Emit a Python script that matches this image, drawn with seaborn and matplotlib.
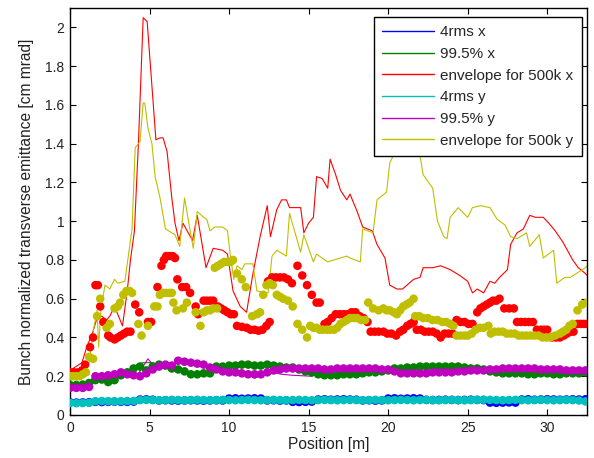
import numpy as np
import pandas as pd
import matplotlib
matplotlib.use("Agg")
import matplotlib.pyplot as plt
from matplotlib.ticker import FuncFormatter
import seaborn as sns

# ---------------- data ----------------
# common sampling positions for the low (4rms / 99.5%) series [m]
pos_low = [0.0, 0.4, 0.8, 1.2, 1.6, 2.0, 2.4, 2.8, 3.2, 3.6,
           4.0, 4.4, 4.8, 5.2, 5.6, 6.0, 6.4, 6.8, 7.2, 7.6,
           8.0, 8.4, 8.8, 9.2, 9.6, 10.0, 10.4, 10.8, 11.2, 11.6,
           12.0, 12.4, 12.8, 13.2, 13.6, 14.0, 14.4, 14.8, 15.2, 15.6,
           16.0, 16.4, 16.8, 17.2, 17.6, 18.0, 18.4, 18.8, 19.2, 19.6,
           20.0, 20.4, 20.8, 21.2, 21.6, 22.0, 22.4, 22.8, 23.2, 23.6,
           24.0, 24.4, 24.8, 25.2, 25.6, 26.0, 26.4, 26.8, 27.2, 27.6,
           28.0, 28.4, 28.8, 29.2, 29.6, 30.0, 30.4, 30.8, 31.2, 31.6,
           32.0, 32.4]

rms_x = [0.065, 0.064, 0.065, 0.066, 0.068, 0.067, 0.068, 0.069, 0.068, 0.068,
         0.069, 0.080, 0.081, 0.079, 0.075, 0.076, 0.075, 0.074, 0.075, 0.076,
         0.075, 0.074, 0.075, 0.076, 0.075, 0.085, 0.086, 0.084, 0.085, 0.086,
         0.085, 0.075, 0.076, 0.074, 0.075, 0.068, 0.067, 0.068, 0.069, 0.080,
         0.081, 0.079, 0.080, 0.081, 0.080, 0.079, 0.075, 0.076, 0.074, 0.075,
         0.085, 0.086, 0.084, 0.085, 0.086, 0.085, 0.078, 0.077, 0.078, 0.079,
         0.078, 0.077, 0.078, 0.079, 0.078, 0.077, 0.064, 0.063, 0.064, 0.065,
         0.064, 0.080, 0.081, 0.079, 0.080, 0.081, 0.080, 0.079, 0.080, 0.081,
         0.080, 0.081]

rms_y = [0.062, 0.061, 0.062, 0.063, 0.071, 0.072, 0.071, 0.070, 0.071, 0.072,
         0.072, 0.077, 0.078, 0.077, 0.076, 0.077, 0.078, 0.077, 0.076, 0.077,
         0.078, 0.077, 0.076, 0.077, 0.078, 0.077, 0.076, 0.077, 0.078, 0.077,
         0.076, 0.077, 0.078, 0.077, 0.076, 0.077, 0.078, 0.077, 0.076, 0.077,
         0.078, 0.077, 0.076, 0.077, 0.078, 0.077, 0.076, 0.077, 0.078, 0.077,
         0.076, 0.077, 0.078, 0.077, 0.076, 0.077, 0.078, 0.077, 0.076, 0.077,
         0.078, 0.077, 0.076, 0.077, 0.078, 0.079, 0.078, 0.077, 0.076, 0.077,
         0.078, 0.077, 0.076, 0.077, 0.078, 0.077, 0.076, 0.077, 0.078, 0.077,
         0.075, 0.070]

p995_x_dots = [0.155, 0.155, 0.157, 0.165, 0.180, 0.183, 0.170, 0.180, 0.205, 0.220,
               0.240, 0.250, 0.230, 0.250, 0.260, 0.255, 0.240, 0.235, 0.225, 0.210,
               0.210, 0.215, 0.215, 0.250, 0.250, 0.255, 0.255, 0.260, 0.260, 0.255,
               0.255, 0.260, 0.255, 0.250, 0.245, 0.245, 0.235, 0.225, 0.220, 0.210,
               0.205, 0.205, 0.205, 0.210, 0.210, 0.210, 0.215, 0.220, 0.220, 0.225,
               0.230, 0.240, 0.240, 0.245, 0.245, 0.250, 0.250, 0.250, 0.250, 0.250,
               0.250, 0.250, 0.245, 0.240, 0.240, 0.235, 0.225, 0.220, 0.215, 0.215,
               0.215, 0.215, 0.210, 0.210, 0.215, 0.215, 0.210, 0.210, 0.215, 0.215,
               0.215, 0.220]

p995_y_dots = [0.140, 0.140, 0.140, 0.145, 0.200, 0.200, 0.205, 0.210, 0.220, 0.210,
               0.205, 0.200, 0.215, 0.235, 0.250, 0.260, 0.255, 0.280, 0.275, 0.270,
               0.265, 0.260, 0.245, 0.235, 0.225, 0.220, 0.220, 0.215, 0.210, 0.210,
               0.210, 0.220, 0.230, 0.235, 0.240, 0.240, 0.240, 0.240, 0.240, 0.240,
               0.235, 0.235, 0.240, 0.240, 0.240, 0.240, 0.240, 0.240, 0.240, 0.235,
               0.235, 0.225, 0.215, 0.215, 0.215, 0.215, 0.215, 0.220, 0.220, 0.220,
               0.220, 0.225, 0.225, 0.230, 0.230, 0.230, 0.235, 0.235, 0.240, 0.240,
               0.240, 0.240, 0.240, 0.240, 0.235, 0.235, 0.235, 0.235, 0.230, 0.230,
               0.230, 0.230]

# 99.5% lines
p995_x_pos = [0, 1.2, 1.5, 2.5, 3.0, 3.9, 4.2, 4.6, 5.0, 5.5,
              6.0, 6.6, 7.0, 7.6, 8.2, 8.8, 9.2, 10.0, 10.6, 11.0,
              11.6, 12.2, 13.0, 14.0, 15.0, 15.8, 16.6, 17.4, 18.6, 19.8,
              20.6, 21.8, 23.0, 24.6, 25.4, 26.2, 27.0, 28.2, 29.4, 30.6,
              31.8, 32.5]
p995_x_line = [0.155, 0.165, 0.18, 0.17, 0.20, 0.23, 0.26, 0.27, 0.27, 0.265,
               0.26, 0.24, 0.23, 0.215, 0.21, 0.22, 0.245, 0.25, 0.23, 0.22,
               0.19, 0.21, 0.24, 0.235, 0.22, 0.21, 0.205, 0.21, 0.22, 0.225,
               0.24, 0.25, 0.25, 0.25, 0.24, 0.225, 0.21, 0.215, 0.21, 0.21,
               0.215, 0.22]

p995_y_pos = [0, 1.2, 1.45, 3.0, 4.2, 4.9, 5.3, 6.0, 6.8, 8.0,
              9.2, 10.4, 11.5, 12.5, 13.3, 14.0, 15.2, 16.0, 17.0, 19.0,
              20.5, 22.0, 24.0, 26.0, 28.0, 30.0, 32.5]
p995_y_line = [0.14, 0.15, 0.20, 0.22, 0.20, 0.29, 0.25, 0.265, 0.27, 0.26,
               0.23, 0.22, 0.21, 0.225, 0.21, 0.205, 0.20, 0.235, 0.24, 0.24,
               0.215, 0.215, 0.22, 0.23, 0.24, 0.235, 0.23]

# envelope lines
env_x_pos = [0, 0.75, 1.05, 1.4, 1.7, 2.0, 2.3, 2.5, 2.8, 3.3,
             3.6, 3.8, 4.05, 4.3, 4.6, 4.85, 5.4, 5.66, 5.85, 6.1,
             6.4, 6.6, 6.85, 7.1, 7.7, 8.0, 8.55, 9.0, 9.6, 9.9,
             10.25, 10.7, 11.1, 11.3, 11.5, 11.95, 12.4, 12.6, 13.0, 13.3,
             13.6, 13.8, 14.5, 14.7, 15.0, 15.3, 15.5, 15.85, 16.2, 16.35,
             16.7, 17.0, 17.4, 17.6, 18.05, 18.4, 19.0, 19.3, 19.8, 20.1,
             20.55, 20.9, 21.6, 22.0, 22.2, 22.8, 23.3, 23.9, 24.5, 25.0,
             25.3, 25.6, 26.0, 26.4, 26.7, 27.0, 27.5, 27.7, 28.1, 28.5,
             28.9, 29.25, 29.75, 30.1, 30.5, 31.0, 31.6, 31.95, 32.4, 32.5]
env_x_val = [0.23, 0.27, 0.35, 0.42, 0.50, 0.51, 0.49, 0.51, 0.56, 0.46,
             0.64, 0.80, 0.95, 1.40, 2.05, 2.03, 1.42, 1.43, 1.43, 1.36,
             1.12, 0.99, 0.90, 0.99, 0.90, 1.03, 0.76, 0.86, 0.85, 0.83,
             0.64, 0.56, 0.53, 0.63, 0.73, 0.92, 1.08, 0.92, 1.06, 1.11,
             1.11, 1.07, 1.07, 0.94, 0.99, 1.02, 1.23, 1.22, 1.17, 1.32,
             1.24, 1.16, 1.11, 1.14, 1.05, 0.97, 0.95, 0.88, 0.81, 0.67,
             0.65, 0.65, 0.70, 0.71, 0.76, 0.76, 0.77, 0.75, 0.72, 0.69,
             0.63, 0.65, 0.63, 0.69, 0.68, 0.71, 0.75, 0.88, 0.94, 0.96,
             1.03, 1.02, 1.02, 0.99, 0.95, 0.89, 0.80, 0.76, 0.73, 0.72]

env_y_pos = [0, 0.6, 1.2, 1.5, 1.7, 1.8, 1.95, 2.2, 2.5, 2.8,
             3.0, 3.45, 3.65, 3.9, 4.1, 4.4, 4.6, 4.7, 4.9, 5.15,
             5.35, 5.66, 6.0, 6.4, 6.6, 6.9, 7.2, 7.45, 7.75, 8.0,
             8.4, 8.6, 8.8, 9.1, 9.6, 9.9, 10.1, 10.3, 10.5, 10.8,
             11.0, 11.5, 11.75, 12.45, 12.7, 13.0, 13.6, 13.8, 14.15, 14.5,
             14.7, 15.3, 15.5, 16.2, 17.4, 17.6, 18.25, 18.4, 19.05, 19.3,
             19.9, 20.1, 20.45, 20.8, 21.5, 22.0, 22.2, 22.8, 23.1, 23.5,
             23.7, 23.9, 24.4, 25.0, 25.3, 25.8, 26.4, 26.85, 27.35, 27.7,
             28.1, 28.7, 28.9, 29.5, 29.75, 30.4, 30.6, 31.1, 31.45, 32.4,
             32.5]
env_y_val = [0.21, 0.21, 0.27, 0.45, 0.54, 0.35, 0.55, 0.67, 0.65, 0.70,
             0.68, 0.69, 0.81, 0.96, 1.38, 1.41, 1.61, 1.61, 1.48, 1.40,
             1.23, 1.12, 0.96, 0.94, 0.93, 0.87, 1.12, 1.00, 0.86, 1.05,
             1.02, 1.01, 0.95, 0.97, 0.97, 0.95, 0.81, 0.70, 0.77, 0.75,
             0.78, 0.78, 0.64, 0.63, 0.82, 0.85, 0.82, 1.04, 0.94, 0.84,
             0.93, 0.79, 0.83, 0.79, 0.82, 0.81, 0.79, 0.96, 0.94, 1.11,
             1.15, 1.30, 1.36, 1.38, 1.39, 1.34, 1.24, 1.17, 1.00, 0.92,
             0.91, 1.02, 1.07, 1.02, 1.07, 1.08, 1.07, 1.01, 0.98, 0.92,
             0.91, 0.94, 0.87, 0.93, 0.81, 0.85, 0.68, 0.71, 0.71, 0.76,
             0.77]

# envelope dots (separate sampled set)
env_x_dot_pos = [0, 0.25, 0.5, 0.75, 0.95, 1.26, 1.45, 1.6, 1.75, 1.9,
                 2.1, 2.4, 2.55, 2.8, 3.0, 3.2, 3.4, 3.6, 3.8, 4.1,
                 4.35, 4.9, 5.1, 5.5, 5.75, 5.9, 6.05, 6.25, 6.45, 6.6,
                 6.75, 7.05, 7.3, 7.55, 7.9, 8.05, 8.4, 8.6, 8.8, 9.0,
                 9.3, 9.5, 9.7, 9.9, 10.1, 10.3, 10.5, 10.8, 11.1, 11.35,
                 11.6, 11.85, 12.1, 12.35, 12.55, 12.45, 12.7, 12.95, 13.2, 13.45,
                 13.7, 13.95, 14.3, 14.6, 14.9, 15.2, 15.5, 15.7, 16.0, 16.2,
                 16.45, 16.7, 16.95, 17.2, 17.45, 17.7, 17.95, 18.2, 18.45, 18.7,
                 18.9, 19.15, 19.4, 19.7, 19.95, 20.2, 20.5, 20.75, 20.95, 21.2,
                 21.4, 21.6, 21.8, 22.05, 22.3, 22.55, 22.8, 23.05, 23.3, 23.55,
                 23.8, 24.05, 24.3, 24.55, 24.8, 25.05, 25.3, 25.6, 25.8, 26.0,
                 26.2, 26.4, 26.6, 26.8, 27.0, 27.3, 27.6, 27.9, 28.1, 28.35,
                 28.6, 28.85, 29.1, 29.35, 29.6, 29.8, 30.0, 30.3, 30.55, 30.8,
                 31.05, 31.25, 31.45, 31.65, 31.9, 32.1, 32.3, 32.5]
env_x_dot_val = [0.22, 0.22, 0.22, 0.23, 0.26, 0.35, 0.40, 0.67, 0.67, 0.56,
                 0.48, 0.41, 0.40, 0.39, 0.40, 0.41, 0.42, 0.43, 0.43, 0.57,
                 0.53, 0.48, 0.48, 0.66, 0.77, 0.80, 0.82, 0.82, 0.82, 0.81,
                 0.70, 0.66, 0.66, 0.63, 0.56, 0.52, 0.59, 0.59, 0.59, 0.59,
                 0.56, 0.55, 0.54, 0.53, 0.52, 0.52, 0.46, 0.455, 0.45, 0.44,
                 0.44, 0.435, 0.44, 0.46, 0.48, 0.69, 0.71, 0.71, 0.71, 0.71,
                 0.70, 0.68, 0.77, 0.72, 0.67, 0.62, 0.58, 0.58, 0.47, 0.48,
                 0.50, 0.52, 0.52, 0.52, 0.52, 0.53, 0.53, 0.51, 0.50, 0.48,
                 0.43, 0.43, 0.43, 0.43, 0.42, 0.42, 0.41, 0.43, 0.44, 0.46,
                 0.47, 0.48, 0.44, 0.44, 0.43, 0.43, 0.43, 0.42, 0.40, 0.42,
                 0.42, 0.42, 0.49, 0.48, 0.48, 0.47, 0.47, 0.53, 0.55, 0.56,
                 0.57, 0.58, 0.59, 0.59, 0.60, 0.55, 0.55, 0.55, 0.48, 0.48,
                 0.48, 0.48, 0.48, 0.44, 0.44, 0.44, 0.44, 0.40, 0.40, 0.40,
                 0.41, 0.42, 0.43, 0.43, 0.47, 0.47, 0.47, 0.47]

env_y_dot_pos = [0, 0.2, 0.4, 0.6, 0.8, 1.0, 1.2, 1.45, 1.7, 1.9,
                 2.3, 2.5, 2.8, 3.0, 3.15, 3.35, 3.55, 3.75, 3.9, 4.3,
                 4.5, 4.9, 5.3, 5.5, 5.65, 5.85, 6.05, 6.25, 6.4, 6.5,
                 6.7, 7.1, 7.35, 7.9, 8.2, 8.4, 8.6, 8.8, 9.0, 9.25,
                 9.1, 9.3, 9.5, 9.7, 9.9, 10.1, 10.25, 10.5, 10.8, 11.05,
                 11.45, 11.75, 11.95, 12.15, 12.35, 12.55, 12.75, 13.0, 13.2, 13.4,
                 13.7, 14.0, 14.3, 14.6, 14.9, 15.1, 15.3, 15.5, 15.7, 15.9,
                 16.15, 16.35, 16.6, 16.8, 17.0, 17.2, 17.4, 17.6, 17.85, 18.05,
                 18.3, 18.55, 18.75, 19.05, 19.4, 19.7, 19.9, 20.1, 20.35, 20.55,
                 20.75, 20.95, 21.15, 21.35, 21.6, 21.7, 21.95, 22.2, 22.5, 22.8,
                 23.1, 23.4, 23.65, 23.9, 24.1, 24.3, 24.55, 24.8, 25.0, 25.25,
                 25.5, 25.75, 26.0, 26.3, 26.45, 26.7, 26.95, 27.2, 27.45, 27.7,
                 27.95, 28.2, 28.45, 28.7, 28.95, 29.2, 29.45, 29.7, 29.95, 30.2,
                 30.5, 30.8, 31.0, 31.2, 31.4, 31.6, 31.9, 32.2, 32.5]
env_y_dot_val = [0.20, 0.20, 0.20, 0.20, 0.21, 0.22, 0.30, 0.29, 0.51, 0.60,
                 0.45, 0.47, 0.55, 0.56, 0.58, 0.62, 0.64, 0.64, 0.63, 0.47,
                 0.41, 0.46, 0.56, 0.56, 0.62, 0.63, 0.63, 0.63, 0.63, 0.58,
                 0.54, 0.55, 0.58, 0.53, 0.46, 0.53, 0.54, 0.54, 0.55, 0.55,
                 0.76, 0.77, 0.78, 0.79, 0.79, 0.79, 0.80, 0.73, 0.70, 0.66,
                 0.51, 0.52, 0.53, 0.62, 0.67, 0.68, 0.67, 0.62, 0.61, 0.60,
                 0.59, 0.56, 0.47, 0.44, 0.40, 0.46, 0.45, 0.45, 0.44, 0.44,
                 0.44, 0.44, 0.44, 0.45, 0.47, 0.48, 0.49, 0.50, 0.50, 0.50,
                 0.49, 0.49, 0.58, 0.55, 0.54, 0.55, 0.54, 0.54, 0.53, 0.52,
                 0.54, 0.56, 0.57, 0.58, 0.60, 0.51, 0.51, 0.50, 0.50, 0.49,
                 0.49, 0.48, 0.48, 0.47, 0.46, 0.41, 0.41, 0.41, 0.41, 0.42,
                 0.44, 0.45, 0.45, 0.46, 0.42, 0.43, 0.43, 0.43, 0.42, 0.42,
                 0.42, 0.41, 0.41, 0.41, 0.41, 0.41, 0.41, 0.40, 0.40, 0.40,
                 0.41, 0.42, 0.43, 0.44, 0.46, 0.47, 0.54, 0.57, 0.58]

labels = ["4rms x", "99.5% x", "envelope for 500k x",
          "4rms y", "99.5% y", "envelope for 500k y"]
colors = ["#0000FF", "#008000", "#FF0000", "#00BFBF", "#BF00BF", "#BFBF00"]

x_ticks = [0, 5, 10, 15, 20, 25, 30]
y_ticks = [0, 0.2, 0.4, 0.6, 0.8, 1.0, 1.2, 1.4, 1.6, 1.8, 2.0]

# ---------------- plot ----------------
sns.set_style("white")
plt.rcParams["font.family"] = ["Liberation Sans", "DejaVu Sans"]

fig = plt.figure(figsize=(5.94, 4.58), dpi=100)
ax = fig.add_axes([70 / 594, 43 / 458, 517 / 594, 407 / 458])

line_sets = [
    (pos_low, rms_x),
    (p995_x_pos, p995_x_line),
    (env_x_pos, env_x_val),
    (pos_low, rms_y),
    (p995_y_pos, p995_y_line),
    (env_y_pos, env_y_val),
]
for (xs, ys), lab, col in zip(line_sets, labels, colors):
    df = pd.DataFrame({"pos": xs, "val": ys})
    sns.lineplot(data=df, x="pos", y="val", color=col, linewidth=0.8,
                 label=lab, ax=ax, sort=False, estimator=None, zorder=2)

dot_sets = [
    (pos_low, rms_x),
    (pos_low, p995_x_dots),
    (env_x_dot_pos, env_x_dot_val),
    (pos_low, rms_y),
    (pos_low, p995_y_dots),
    (env_y_dot_pos, env_y_dot_val),
]
for (xs, ys), col in zip(dot_sets, colors):
    df = pd.DataFrame({"pos": xs, "val": ys})
    sns.scatterplot(data=df, x="pos", y="val", color=col, s=38,
                    linewidth=0, edgecolor="none", legend=False, ax=ax,
                    zorder=3)

ax.set_xlim(0, 32.5)
ax.set_ylim(0, 2.1)
ax.set_xticks(x_ticks)
ax.set_yticks(y_ticks)
ax.yaxis.set_major_formatter(FuncFormatter(lambda v, p: "%g" % v))
ax.xaxis.set_major_formatter(FuncFormatter(lambda v, p: "%g" % v))
ax.tick_params(direction="in", length=4, width=0.8, colors="black",
               labelsize=10, top=True, right=True, bottom=True, left=True,
               labelcolor="#222222", pad=4)
for sp in ax.spines.values():
    sp.set_visible(True)
    sp.set_color("black")
    sp.set_linewidth(1.0)

ax.set_xlabel("Position [m]", fontsize=11.2, color="#222222", labelpad=2)
ax.set_ylabel("Bunch normalized transverse emittance [cm mrad]",
              fontsize=11.2, color="#222222", labelpad=8)

leg = ax.legend(loc="upper right", bbox_to_anchor=(0.990, 0.978),
                borderaxespad=0, fontsize=11, frameon=True, fancybox=False,
                framealpha=1, edgecolor="black", handlelength=3.4,
                handletextpad=0.4, labelspacing=0.5, borderpad=0.55)
leg.get_frame().set_linewidth(1.0)
for lh in leg.get_lines():
    lh.set_linewidth(1.0)

fig.savefig("out.png", dpi=100)
